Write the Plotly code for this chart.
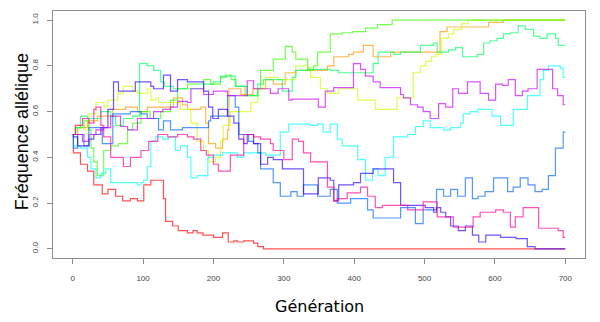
import plotly.graph_objects as go

# ---- data (generation, allele frequency) change points ----
red_gen = [0,1,11,21,30,42,50,61,71,82,92,101,111,129,132,142,150,163,171,177,185,200,213,221,229,234,243,257,263,271,700]
red_val = [0.50,0.42,0.37,0.34,0.28,0.24,0.26,0.23,0.21,0.22,0.21,0.28,0.30,0.22,0.12,0.10,0.08,0.07,0.08,0.07,0.06,0.05,0.07,0.03,0.035,0.03,0.035,0.025,0.01,0.0,0.0]

orange_gen = [0,7,21,35,57,75,92,106,128,143,156,163,182,189,193,203,213,220,222,239,256,274,285,302,317,362,371,392,399,413,427,452,487,513,522,532,591,612,700]
orange_val = [0.50,0.53,0.56,0.58,0.61,0.62,0.60,0.62,0.62,0.66,0.63,0.61,0.62,0.55,0.46,0.44,0.48,0.52,0.70,0.675,0.70,0.74,0.72,0.77,0.78,0.80,0.84,0.85,0.86,0.89,0.84,0.86,0.86,0.86,0.95,0.97,0.99,1.0,1.0]

yellow_gen = [0,3,16,23,33,44,50,64,72,85,92,106,111,118,122,142,153,168,177,186,193,203,210,214,224,239,253,263,274,292,317,334,338,352,362,378,405,430,461,484,494,502,510,516,524,534,541,553,562,700]
yellow_val = [0.50,0.54,0.52,0.59,0.64,0.62,0.65,0.68,0.71,0.69,0.68,0.70,0.65,0.66,0.64,0.64,0.61,0.55,0.47,0.43,0.38,0.40,0.47,0.54,0.60,0.60,0.64,0.70,0.75,0.74,0.80,0.79,0.75,0.70,0.68,0.70,0.65,0.61,0.66,0.77,0.80,0.82,0.84,0.85,0.92,0.94,0.96,0.985,1.0,1.0]

green_gen = [0,4,16,23,26,30,35,44,54,65,78,85,97,110,125,139,149,163,186,196,210,218,225,232,245,263,267,285,302,312,317,334,342,348,366,383,398,416,433,454,700]
green_val = [0.50,0.53,0.56,0.52,0.44,0.38,0.32,0.43,0.45,0.46,0.52,0.55,0.60,0.57,0.60,0.65,0.70,0.72,0.74,0.72,0.75,0.76,0.74,0.71,0.67,0.70,0.78,0.83,0.885,0.86,0.83,0.78,0.80,0.86,0.94,0.945,0.95,0.965,0.98,1.0,1.0]

spring_gen = [0,4,11,21,40,54,61,72,85,95,106,115,125,130,143,156,170,186,200,210,231,248,263,271,298,312,317,334,366,378,427,434,447,456,466,494,513,518,534,544,554,575,584,593,603,612,622,633,643,655,664,674,686,690,700]
spring_val = [0.50,0.53,0.58,0.57,0.60,0.58,0.54,0.57,0.58,0.81,0.80,0.78,0.73,0.71,0.70,0.70,0.70,0.72,0.73,0.755,0.71,0.67,0.72,0.74,0.69,0.75,0.78,0.785,0.78,0.77,0.81,0.86,0.86,0.85,0.86,0.89,0.90,0.86,0.87,0.88,0.84,0.85,0.90,0.91,0.92,0.94,0.945,0.975,0.96,0.93,0.92,0.94,0.92,0.89,0.89]

cyan_gen = [0,1,11,21,26,33,40,47,54,75,92,97,101,106,111,118,128,136,146,153,163,168,177,192,200,213,234,243,257,274,295,307,338,348,356,366,376,383,405,416,426,434,444,456,476,487,498,508,527,537,551,555,565,576,596,608,626,646,664,669,676,693,697,700]
cyan_val = [0.50,0.45,0.44,0.40,0.35,0.31,0.33,0.35,0.29,0.29,0.28,0.29,0.30,0.36,0.47,0.49,0.48,0.49,0.43,0.45,0.40,0.31,0.32,0.40,0.41,0.42,0.40,0.42,0.42,0.41,0.51,0.545,0.54,0.545,0.51,0.545,0.48,0.45,0.39,0.30,0.35,0.32,0.40,0.49,0.50,0.535,0.56,0.53,0.52,0.53,0.55,0.59,0.60,0.61,0.58,0.54,0.61,0.67,0.74,0.78,0.80,0.79,0.75,0.75]

blue_gen = [0,1,7,16,23,42,57,82,97,106,122,129,139,156,193,196,213,220,231,236,250,257,263,267,285,295,310,319,328,348,366,376,395,419,427,447,466,487,498,517,527,537,547,558,568,576,586,598,618,626,636,647,657,667,676,686,697,700]
blue_val = [0.50,0.44,0.50,0.45,0.53,0.46,0.59,0.60,0.59,0.57,0.52,0.56,0.52,0.53,0.56,0.58,0.58,0.67,0.62,0.50,0.47,0.46,0.42,0.35,0.29,0.23,0.25,0.23,0.28,0.23,0.26,0.20,0.22,0.17,0.135,0.135,0.18,0.11,0.17,0.26,0.23,0.26,0.23,0.31,0.22,0.23,0.25,0.31,0.25,0.27,0.31,0.28,0.25,0.26,0.32,0.44,0.51,0.51]

purple_gen = [0,1,7,23,30,40,50,58,65,89,111,115,129,139,149,163,186,193,199,207,220,229,236,243,248,257,267,277,285,298,328,341,349,366,371,378,399,409,427,456,466,501,513,517,523,530,537,548,558,568,577,587,608,630,646,657,700]
purple_val = [0.50,0.49,0.45,0.48,0.50,0.53,0.61,0.73,0.69,0.73,0.71,0.70,0.76,0.69,0.74,0.73,0.69,0.62,0.57,0.61,0.58,0.55,0.48,0.46,0.50,0.46,0.37,0.40,0.39,0.35,0.24,0.24,0.31,0.30,0.21,0.28,0.29,0.33,0.35,0.29,0.19,0.18,0.16,0.18,0.16,0.14,0.10,0.08,0.10,0.06,0.03,0.06,0.05,0.045,0.01,0.0,0.0]

magenta_gen = [0,14,23,33,44,54,68,78,92,115,128,139,149,163,168,186,200,220,248,257,281,292,307,312,349,359,371,399,409,416,427,437,466,470,480,490,498,508,520,530,540,548,561,579,591,601,611,619,629,639,647,660,682,689,697,700]
magenta_val = [0.50,0.47,0.50,0.52,0.53,0.58,0.535,0.52,0.57,0.60,0.61,0.62,0.645,0.64,0.70,0.675,0.69,0.67,0.735,0.70,0.68,0.70,0.65,0.655,0.62,0.69,0.705,0.81,0.785,0.755,0.73,0.705,0.675,0.66,0.63,0.62,0.60,0.57,0.635,0.62,0.70,0.68,0.73,0.68,0.65,0.72,0.715,0.74,0.67,0.69,0.70,0.785,0.70,0.67,0.63,0.63]

pink_gen = [0,4,14,23,30,33,40,44,54,72,82,97,108,121,135,149,163,172,182,190,200,207,224,243,257,267,281,285,300,312,321,328,338,362,371,376,390,409,419,430,440,476,498,518,541,569,579,601,612,622,629,640,662,690,697,700]
pink_val = [0.50,0.54,0.57,0.55,0.61,0.62,0.54,0.49,0.40,0.36,0.40,0.43,0.47,0.50,0.49,0.50,0.49,0.48,0.43,0.41,0.37,0.34,0.41,0.50,0.49,0.48,0.46,0.43,0.39,0.48,0.47,0.42,0.38,0.27,0.21,0.22,0.245,0.27,0.23,0.18,0.19,0.17,0.205,0.14,0.095,0.14,0.16,0.17,0.16,0.095,0.14,0.18,0.09,0.08,0.05,0.05]

series = [
    (red_gen, red_val, "#FF0000"),
    (orange_gen, orange_val, "#FF9900"),
    (yellow_gen, yellow_val, "#CCFF00"),
    (green_gen, green_val, "#33FF00"),
    (spring_gen, spring_val, "#00FF66"),
    (cyan_gen, cyan_val, "#00FFFF"),
    (blue_gen, blue_val, "#0066FF"),
    (purple_gen, purple_val, "#3300FF"),
    (magenta_gen, magenta_val, "#CC00FF"),
    (pink_gen, pink_val, "#FF0099"),
]

x_ticks = [0, 100, 200, 300, 400, 500, 600, 700]
y_ticks = [0.0, 0.2, 0.4, 0.6, 0.8, 1.0]
x_title = "Génération"
y_title = "Fréquence allélique"

fig = go.Figure()
for g, v, c in series:
    fig.add_trace(go.Scatter(x=g, y=v, mode="lines", line=dict(color=c, width=1.2, shape="hv"),
                             opacity=0.68, showlegend=False, hoverinfo="skip"))

axis_common = dict(showgrid=False, zeroline=False, showline=True, mirror=True,
                   linecolor="#8c8c8c", linewidth=1, ticks="outside", ticklen=5,
                   tickcolor="#8c8c8c", tickfont=dict(family="Liberation Sans", size=8, color="#444"))
fig.update_xaxes(range=[-28, 728], tickvals=x_ticks, ticklabelstandoff=7, **axis_common)
fig.update_yaxes(range=[-0.04, 1.04], tickvals=y_ticks, tickformat=".1f", tickangle=-90,
                 ticklabelstandoff=6, **axis_common)

fig.update_layout(
    width=600, height=322,
    margin=dict(l=53, r=15, t=11, b=64, autoexpand=False),
    plot_bgcolor="white", paper_bgcolor="white",
    annotations=[
        dict(text=x_title, xref="paper", yref="paper", x=0.5, y=-0.195, xanchor="center",
             yanchor="middle", showarrow=False, font=dict(family="DejaVu Sans", size=16, color="black")),
        dict(text=y_title, xref="paper", yref="paper", x=-0.058, y=0.51, xanchor="center",
             yanchor="middle", textangle=-90, showarrow=False,
             font=dict(family="Liberation Sans", size=18, color="black")),
    ],
)

fig.write_html("out.html")
